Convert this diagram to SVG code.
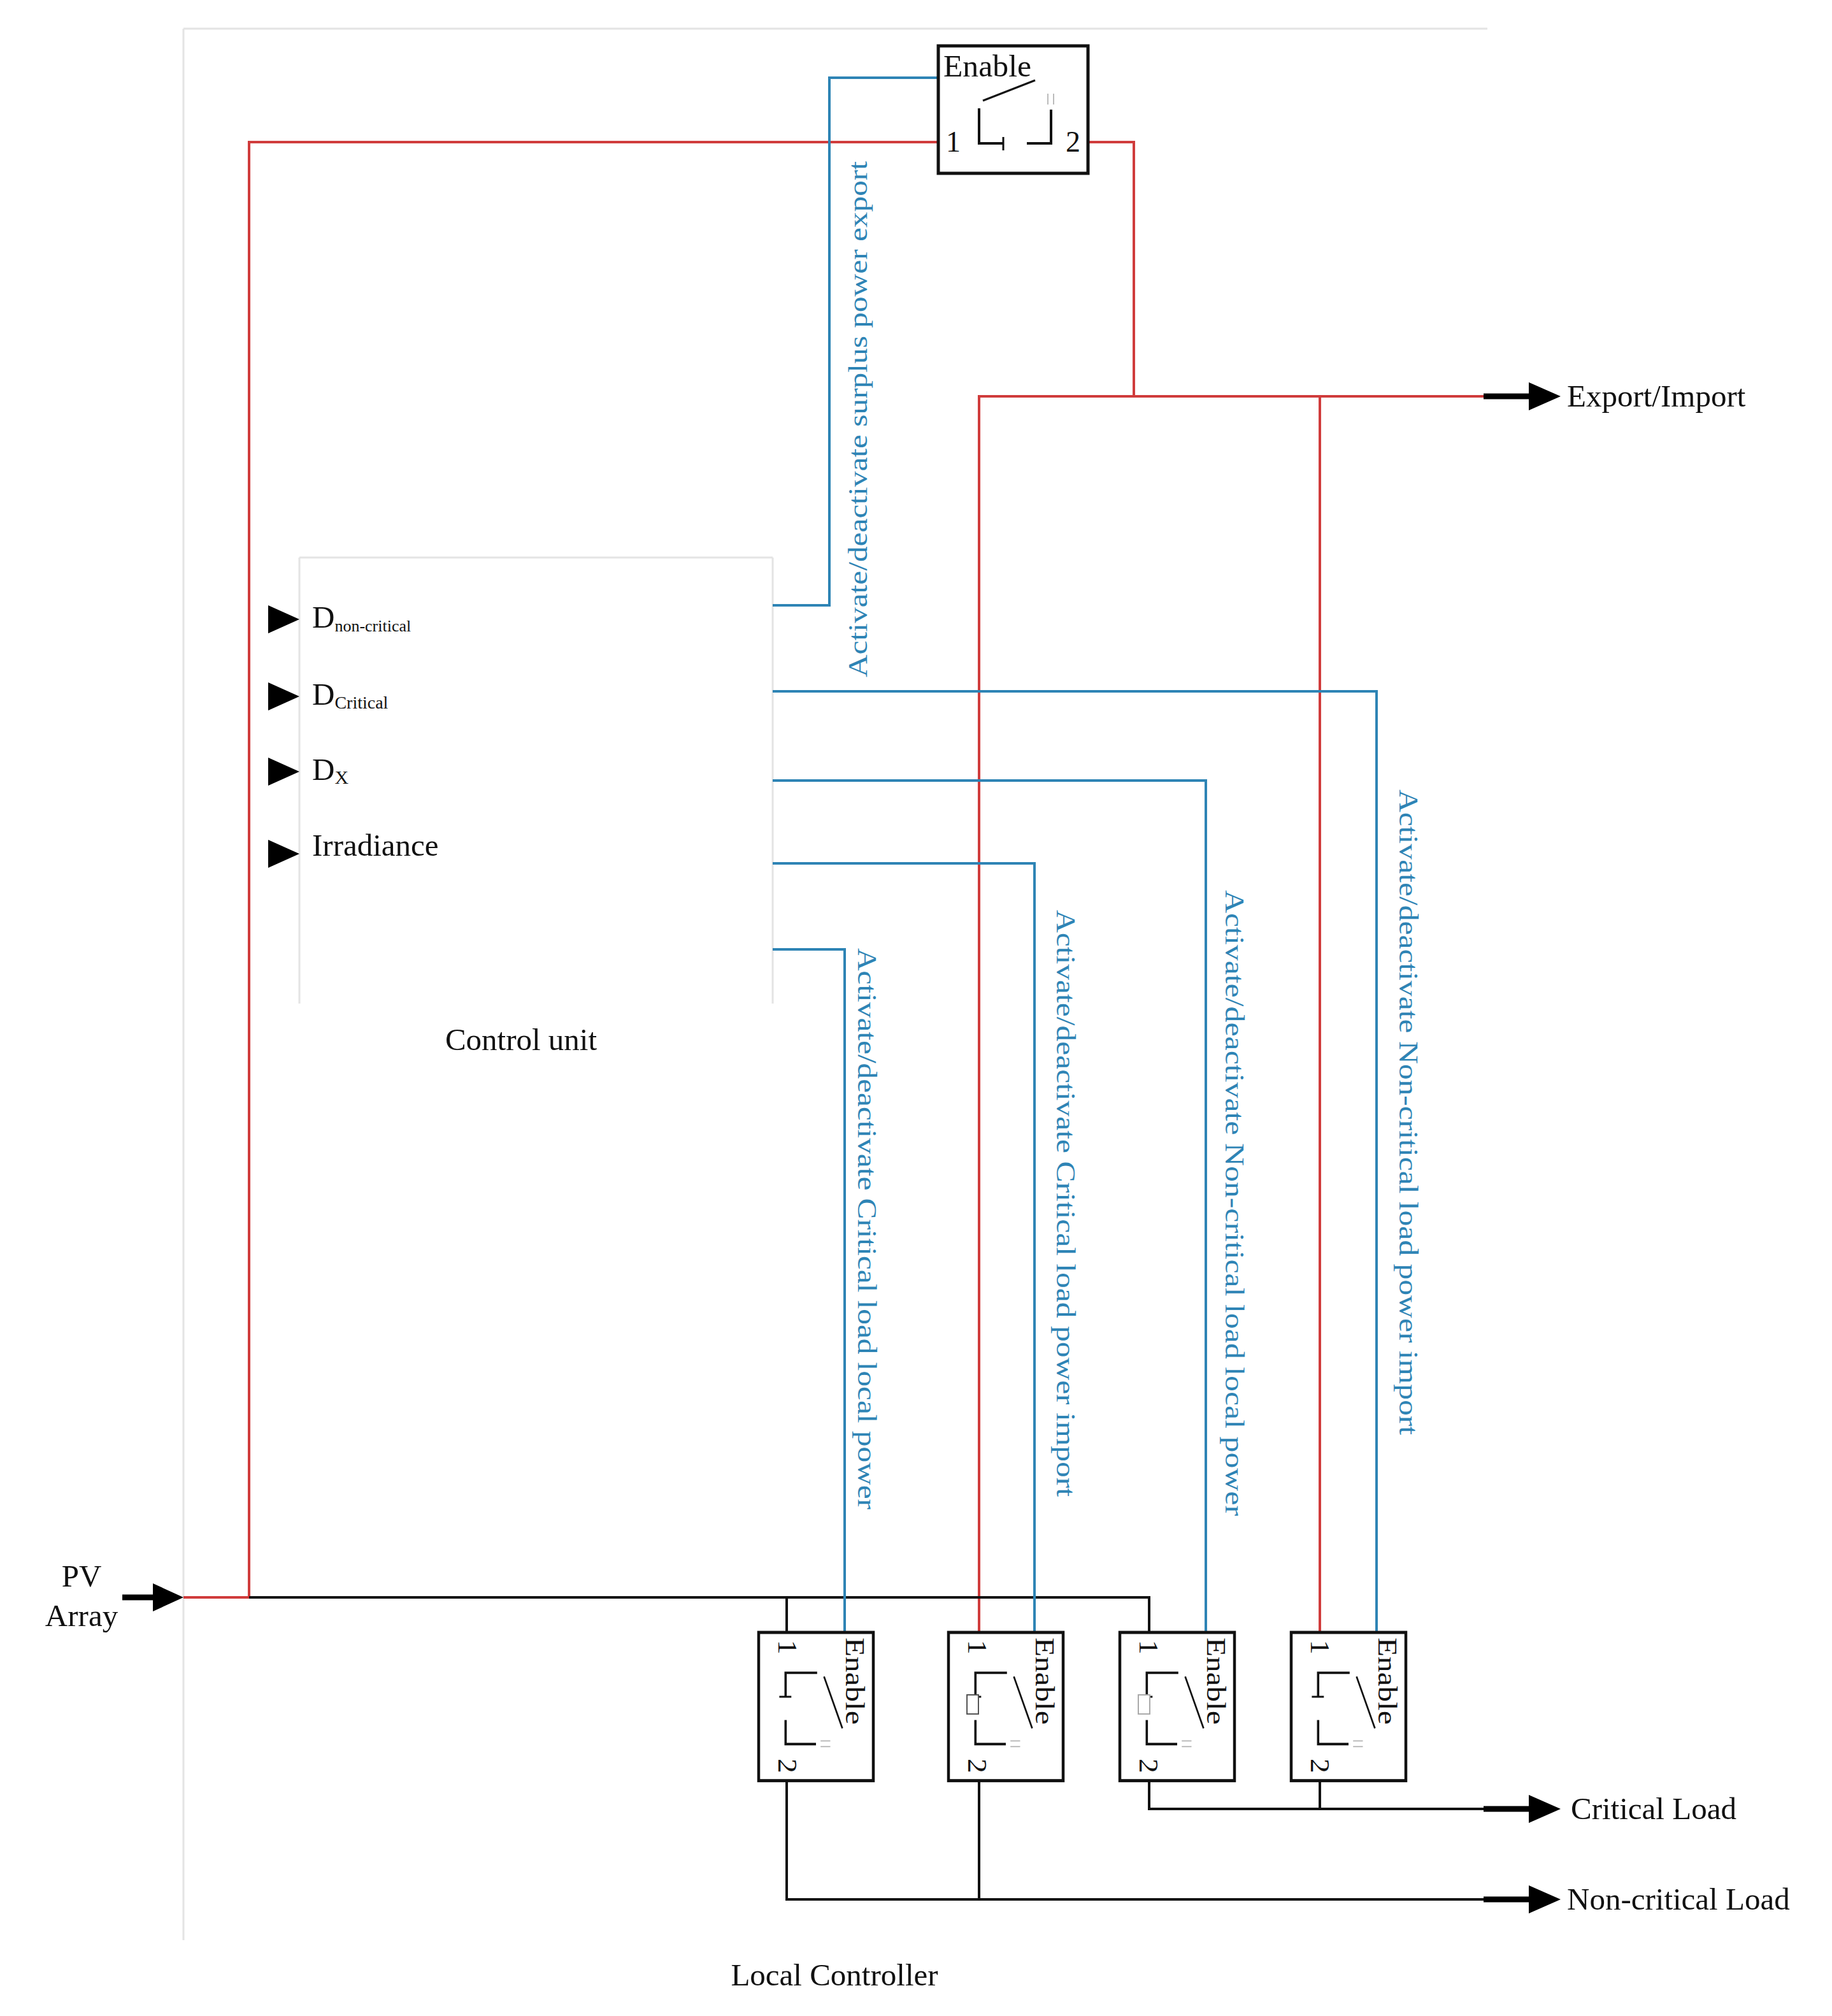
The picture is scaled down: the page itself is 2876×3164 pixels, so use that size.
<svg xmlns="http://www.w3.org/2000/svg" xmlns:xlink="http://www.w3.org/1999/xlink" width="2876" height="3164" viewBox="0 0 2876 3164">
<style>
text{font-family:"Liberation Serif",serif;fill:#111}
.frame{stroke:#e4e4e4;stroke-width:3;fill:none}
.red{stroke:#d03c3c;stroke-width:4;fill:none}
.blue{stroke:#2e84b5;stroke-width:4;fill:none}
.blk{stroke:#111;stroke-width:4;fill:none}
.lbl{fill:#2e84b5;font-size:42px}
.big{font-size:49px}
</style>
<defs>
<g id="sw">
<rect x="0" y="0" width="235" height="200" fill="#fff" stroke="#111" stroke-width="5"/>
<text x="8" y="48" font-size="48" textLength="138" lengthAdjust="spacingAndGlyphs">Enable</text>
<line x1="70" y1="86" x2="152" y2="54" stroke="#111" stroke-width="3"/>
<polyline points="64,98 64,153 102,153" fill="none" stroke="#111" stroke-width="4"/>
<line x1="102" y1="143" x2="102" y2="164" stroke="#111" stroke-width="3"/>
<polyline points="139,153 177,153 177,100" fill="none" stroke="#111" stroke-width="4"/>
<line x1="172" y1="75" x2="172" y2="92" stroke="#bbb" stroke-width="2"/>
<line x1="181" y1="75" x2="181" y2="92" stroke="#bbb" stroke-width="2"/>
<text x="12" y="166" font-size="46">1</text>
<text x="200" y="166" font-size="46">2</text>
</g>
</defs>
<rect width="2876" height="3164" fill="#fff"/>
<g id="frame">
<line class="frame" x1="288" y1="45" x2="2335" y2="45"/>
<line class="frame" x1="288" y1="45" x2="288" y2="3045"/>
</g>
<g id="control-unit">
<line class="frame" x1="470" y1="875" x2="1213" y2="875"/>
<line class="frame" x1="470" y1="875" x2="470" y2="1575"/>
<line class="frame" x1="1213" y1="875" x2="1213" y2="1575" stroke="#f0f0f0"/>
<path d="M421 950 L470 972 L421 994 Z M421 1071 L470 1093 L421 1115 Z M421 1189 L470 1211 L421 1233 Z M421 1318 L470 1340 L421 1362 Z" fill="#000"/>
<text x="490" y="985" class="big">D<tspan font-size="26" dy="6">non-critical</tspan></text>
<text x="490" y="1106" class="big">D<tspan font-size="28" dy="6">Critical</tspan></text>
<text x="490" y="1224" class="big">D<tspan font-size="30" dy="6">X</tspan></text>
<text x="490" y="1343" class="big">Irradiance</text>
<text x="818" y="1648" class="big" text-anchor="middle">Control unit</text>
</g>
<g id="connectors">
<polyline class="red" points="1473,223 391,223 391,2507 288,2507"/>
<polyline class="red" points="1708,223 1780,223 1780,622"/>
<polyline class="red" points="1537,2562 1537,622 2335,622"/>
<polyline class="red" points="2072,622 2072,2562"/>
<polyline class="blk" points="391,2507 1804,2507 1804,2562"/>
<line class="blk" x1="1235" y1="2507" x2="1235" y2="2562"/>
<polyline class="blue" points="1213,950 1302,950 1302,122 1473,122"/>
<polyline class="blue" points="1213,1085 2161,1085 2161,2562"/>
<polyline class="blue" points="1213,1225 1893,1225 1893,2562"/>
<polyline class="blue" points="1213,1355 1624,1355 1624,2562"/>
<polyline class="blue" points="1213,1490 1326,1490 1326,2562"/>
<polyline class="blk" points="1235,2795 1235,2981 2335,2981"/>
<line class="blk" x1="1537" y1="2795" x2="1537" y2="2981"/>
<polyline class="blk" points="1804,2795 1804,2839 2335,2839"/>
<line class="blk" x1="2072" y1="2795" x2="2072" y2="2839"/>
<g stroke="#000" stroke-width="9">
<line x1="2329" y1="622" x2="2405" y2="622"/>
<line x1="2329" y1="2839" x2="2405" y2="2839"/>
<line x1="2329" y1="2981" x2="2405" y2="2981"/>
<line x1="192" y1="2507" x2="245" y2="2507"/>
</g>
<path d="M2400 600 L2450 622 L2400 644 Z M2400 2817 L2450 2839 L2400 2861 Z M2400 2959 L2450 2981 L2400 3003 Z M240 2485 L288 2507 L240 2529 Z" fill="#000"/>
</g>
<g id="switch-export"><use xlink:href="#sw" transform="translate(1473,72)"/></g>
<g id="switch-1"><use xlink:href="#sw" transform="translate(1371,2562) rotate(90) scale(0.99,0.9)"/></g>
<g id="switch-2"><use xlink:href="#sw" transform="translate(1669,2562) rotate(90) scale(0.99,0.9)"/><rect x="1518" y="2660" width="18" height="30" fill="#fff" stroke="#555" stroke-width="2"/></g>
<g id="switch-3"><use xlink:href="#sw" transform="translate(1938,2562) rotate(90) scale(0.99,0.9)"/><rect x="1787" y="2660" width="18" height="30" fill="#fff" stroke="#aaa" stroke-width="2"/></g>
<g id="switch-4"><use xlink:href="#sw" transform="translate(2207,2562) rotate(90) scale(0.99,0.9)"/></g>
<g id="labels">
<text class="lbl" transform="translate(1361,1063) rotate(-90)" textLength="810" lengthAdjust="spacingAndGlyphs">Activate/deactivate surplus power export</text>
<text class="lbl" transform="translate(1347,1488) rotate(90)" textLength="881" lengthAdjust="spacingAndGlyphs">Activate/deactivate Critical load local power</text>
<text class="lbl" transform="translate(1659,1428) rotate(90)" textLength="921" lengthAdjust="spacingAndGlyphs">Activate/deactivate Critical load power import</text>
<text class="lbl" transform="translate(1924,1397) rotate(90)" textLength="982" lengthAdjust="spacingAndGlyphs">Activate/deactivate Non-critical load local power</text>
<text class="lbl" transform="translate(2197,1239) rotate(90)" textLength="1013" lengthAdjust="spacingAndGlyphs">Activate/deactivate Non-critical load power import</text>
<text x="2460" y="638" class="big">Export/Import</text>
<text x="2466" y="2855" class="big">Critical Load</text>
<text x="2460" y="2997" class="big">Non-critical Load</text>
<text x="128" y="2490" class="big" text-anchor="middle">PV</text>
<text x="128" y="2552" class="big" text-anchor="middle">Array</text>
<text x="1310" y="3116" class="big" text-anchor="middle">Local Controller</text>
</g>
</svg>
